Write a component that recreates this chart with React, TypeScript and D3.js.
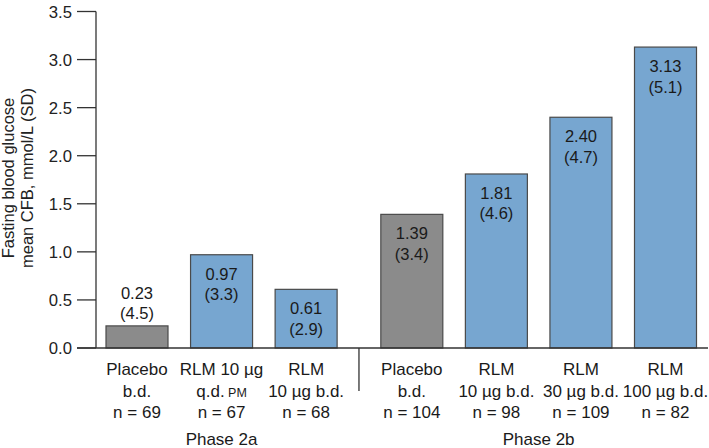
import React from "react";
import * as d3 from "d3";

const labelLine1 = ["Placebo", "RLM 10 µg", "RLM", "Placebo", "RLM", "RLM", "RLM"];
const labelLine2 = ["b.d.", "q.d.", "10 µg b.d.", "b.d.", "10 µg b.d.", "30 µg b.d.", "100 µg b.d."];
const nValues = [69, 67, 68, 104, 98, 109, 82];
const means = [0.23, 0.97, 0.61, 1.39, 1.81, 2.4, 3.13];
const sds = [4.5, 3.3, 2.9, 3.4, 4.6, 4.7, 5.1];
const isPlacebo = [true, false, false, true, false, false, false];
const phaseOf = [0, 0, 0, 1, 1, 1, 1];
const phases = ["Phase 2a", "Phase 2b"];
const yTicks = [0, 0.5, 1.0, 1.5, 2.0, 2.5, 3.0, 3.5];

const FONT = "'Liberation Sans', Arial, Helvetica, sans-serif";

export default function App() {
  const W = 709, H = 448;
  const axisX = 96;
  const y = d3.scaleLinear().domain([0, 3.5]).range([348, 11.5]);
  const x = d3.scaleLinear().domain([0, 6.25]).range([137, 665.5]);
  const slot = (i: number) => i + (phaseOf[i] === 1 ? 0.25 : 0);
  const bw = 62;
  const base = y(0);

  const phaseCenters = phases.map((_, p) => {
    const idx = means.map((_, i) => i).filter((i) => phaseOf[i] === p);
    return d3.mean(idx, (i) => x(slot(i))) as number;
  });
  const sepX = (x(slot(2)) + x(slot(3))) / 2;

  return (
    <svg width={W} height={H} style={{ position: "absolute", left: 0, top: 0, background: "#fff" }} fontFamily={FONT}>
      {/* y ticks */}
      {yTicks.map((t) => (
        <g key={t}>
          <line x1={77} x2={axisX} y1={y(t)} y2={y(t)} stroke="#333" strokeWidth={1.3} />
          <text x={72} y={y(t)} dy="0.36em" textAnchor="end" fontSize={16.7} fill="#222">
            {d3.format(".1f")(t)}
          </text>
        </g>
      ))}
      {/* axis title */}
      <g transform={`translate(14,178) rotate(-90)`}>
        <text textAnchor="middle" fontSize={16.5} fill="#222">Fasting blood glucose</text>
        <text textAnchor="middle" y={18.5} fontSize={16.5} fill="#222">mean CFB, mmol/L (SD)</text>
      </g>
      {/* bars */}
      {means.map((v, i) => {
        const cx = x(slot(i));
        const top = y(v);
        const h = base - top;
        const inside = h > 50;
        const l1 = inside ? top + 25 : top - 27;
        const l2 = inside ? top + 45.5 : top - 6.5;
        return (
          <g key={i}>
            <rect x={cx - bw / 2} y={top} width={bw} height={h}
              fill={isPlacebo[i] ? "#8b8b8b" : "#77a6d0"} stroke="#4a4a4a" strokeWidth={1.2} />
            <text x={cx} y={l1} textAnchor="middle" fontSize={16.5} fill="#1a1a1a">{d3.format(".2f")(v)}</text>
            <text x={cx} y={l2} textAnchor="middle" fontSize={16.5} fill="#1a1a1a">({d3.format(".1f")(sds[i])})</text>
          </g>
        );
      })}
      {/* axis lines */}
      <line x1={axisX} x2={axisX} y1={y(3.5)} y2={base} stroke="#333" strokeWidth={1.3} />
      <line x1={77} x2={708} y1={base} y2={base} stroke="#333" strokeWidth={1.3} />
      <line x1={sepX} x2={sepX} y1={base} y2={391} stroke="#333" strokeWidth={1.3} />
      {/* category labels */}
      {means.map((_, i) => {
        const cx = x(slot(i));
        return (
          <g key={"l" + i} fontSize={17} fill="#1a1a1a">
            <text x={cx} y={375} textAnchor="middle">{labelLine1[i]}</text>
            <text x={cx} y={396.5} textAnchor="middle">
              {labelLine2[i]}
              {i === 1 ? <tspan fontSize={12.5}> PM</tspan> : null}
            </text>
            <text x={cx} y={418} textAnchor="middle">n = {nValues[i]}</text>
          </g>
        );
      })}
      {phases.map((p, k) => (
        <text key={p} x={phaseCenters[k]} y={445} textAnchor="middle" fontSize={17} fill="#1a1a1a">{p}</text>
      ))}
    </svg>
  );
}
